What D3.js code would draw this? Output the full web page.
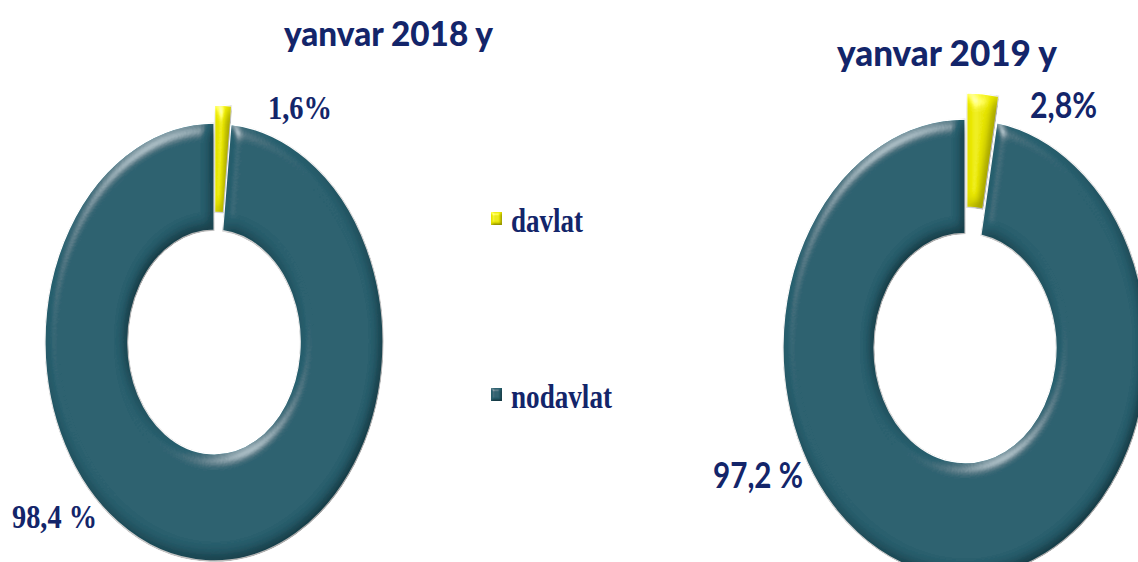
<!DOCTYPE html>
<html>
<head>
<meta charset="utf-8">
<script src="https://cdn.jsdelivr.net/npm/d3@7"></script>
<style>
  html, body { margin: 0; padding: 0; background: #ffffff; }
  svg { display: block; }
</style>
</head>
<body>
<svg id="chart" width="1138" height="562"></svg>
<script>
// ---- data ----
const categories = ["davlat", "nodavlat"];
const titles = ["yanvar 2018 y", "yanvar 2019 y"];
const values2018 = [1.6, 98.4];
const values2019 = [2.8, 97.2];
const labels2018 = ["1,6%", "98,4 %"];
const labels2019 = ["2,8%", "97,2 %"];

// ---- styles / layout ----
const colors = ["#eeec00", "#28606f"];
const textColor = "#13256a";

const svg = d3.select("#chart");
const defs = svg.append("defs");

function bevel(id, blur, scale, spec, expo) {
  const f = defs.append("filter").attr("id", id)
    .attr("x", "-10%").attr("y", "-10%").attr("width", "120%").attr("height", "120%");
  f.append("feGaussianBlur").attr("in", "SourceAlpha").attr("stdDeviation", blur).attr("result", "blur");
  const s = f.append("feSpecularLighting").attr("in", "blur")
    .attr("surfaceScale", scale).attr("specularConstant", spec).attr("specularExponent", expo)
    .attr("lighting-color", "#ffffff").attr("result", "spec");
  s.append("feDistantLight").attr("azimuth", 235).attr("elevation", 40);
  f.append("feComposite").attr("in", "spec").attr("in2", "SourceAlpha").attr("operator", "in").attr("result", "specIn");
  const d = f.append("feDiffuseLighting").attr("in", "blur")
    .attr("surfaceScale", scale).attr("diffuseConstant", 1)
    .attr("lighting-color", "#ffffff").attr("result", "diff");
  d.append("feDistantLight").attr("azimuth", 235).attr("elevation", 60);
  f.append("feComposite").attr("in", "SourceGraphic").attr("in2", "diff")
    .attr("operator", "arithmetic").attr("k1", 1.12).attr("k2", 0).attr("k3", 0).attr("k4", 0).attr("result", "lit");
  f.append("feComposite").attr("in", "specIn").attr("in2", "lit")
    .attr("operator", "arithmetic").attr("k1", 0).attr("k2", 0.4).attr("k3", 1).attr("k4", 0).attr("result", "all");
  f.append("feComposite").attr("in", "all").attr("in2", "SourceAlpha").attr("operator", "in");
}
bevel("bevel", 6, 6, 0.9, 40);
bevel("bevelSmall", 1.5, 2, 0.6, 30);

const pie = d3.pie().sort(null).value(d => d).startAngle(0).endAngle(2 * Math.PI);

const donuts = [
  { values: values2018, labels: labels2018, title: titles[0],
    cx: 214, cy: 342, rx: 169, ry: 219, inner: 0.51, explode: 14,
    titleX: 284, titleY: 46, titleSize: 35, titleLen: 209,
    labelFont: "'Liberation Serif', 'Times New Roman', serif", labelSize: 34,
    labelPos: [[268, 119, 64], [12, 528, 85]] },
  { values: values2019, labels: labels2019, title: titles[1],
    cx: 965, cy: 348, rx: 182, ry: 229, inner: 0.50, explode: 21,
    titleX: 837, titleY: 66, titleSize: 36, titleLen: 220,
    labelFont: "Lato, 'Open Sans', sans-serif", labelSize: 36,
    labelPos: [[1030, 118, 67], [713, 488, 90]] }
];

donuts.forEach(cfg => {
  const k = cfg.ry / cfg.rx;
  const arc = d3.arc().outerRadius(cfg.rx).innerRadius(cfg.rx * cfg.inner);
  const g = svg.append("g")
    .attr("transform", `translate(${cfg.cx},${cfg.cy}) scale(1,${k})`);
  const arcs = pie(cfg.values);
  g.selectAll("path").data(arcs).join("path")
    .attr("d", arc)
    .attr("fill", (d, i) => colors[i])
    .attr("stroke", "#ffffff")
    .attr("stroke-width", 1.2)
    .attr("filter", "url(#bevel)")
    .attr("transform", (d, i) => {
      if (i !== 0) return null;
      const mid = (d.startAngle + d.endAngle) / 2;
      return `translate(${Math.sin(mid) * cfg.explode},${-Math.cos(mid) * cfg.explode})`;
    });

  svg.append("text")
    .attr("x", cfg.titleX).attr("y", cfg.titleY)
    .attr("font-family", "Lato, 'Open Sans', sans-serif")
    .attr("font-weight", "900")
    .attr("font-size", cfg.titleSize)
    .attr("fill", textColor)
    .attr("textLength", cfg.titleLen)
    .attr("lengthAdjust", "spacingAndGlyphs")
    .text(cfg.title);

  cfg.labels.forEach((lab, i) => {
    svg.append("text")
      .attr("x", cfg.labelPos[i][0]).attr("y", cfg.labelPos[i][1])
      .attr("font-family", cfg.labelFont)
      .attr("font-weight", "bold")
      .attr("font-size", cfg.labelSize)
      .attr("fill", textColor)
      .attr("textLength", cfg.labelPos[i][2])
      .attr("lengthAdjust", "spacingAndGlyphs")
      .text(lab);
  });
});

// legend
const legendY = [232, 408];
const legendLen = [72, 101];
const legend = svg.append("g");
categories.forEach((c, i) => {
  legend.append("rect")
    .attr("x", 491).attr("y", legendY[i] - 20)
    .attr("width", 11).attr("height", 13)
    .attr("fill", colors[i])
    .attr("filter", "url(#bevelSmall)");
  legend.append("text")
    .attr("x", 511).attr("y", legendY[i])
    .attr("font-family", "'Liberation Serif', 'Times New Roman', serif")
    .attr("font-weight", "bold")
    .attr("font-size", 33)
    .attr("fill", textColor)
    .attr("textLength", legendLen[i])
    .attr("lengthAdjust", "spacingAndGlyphs")
    .text(c);
});
</script>
</body>
</html>
